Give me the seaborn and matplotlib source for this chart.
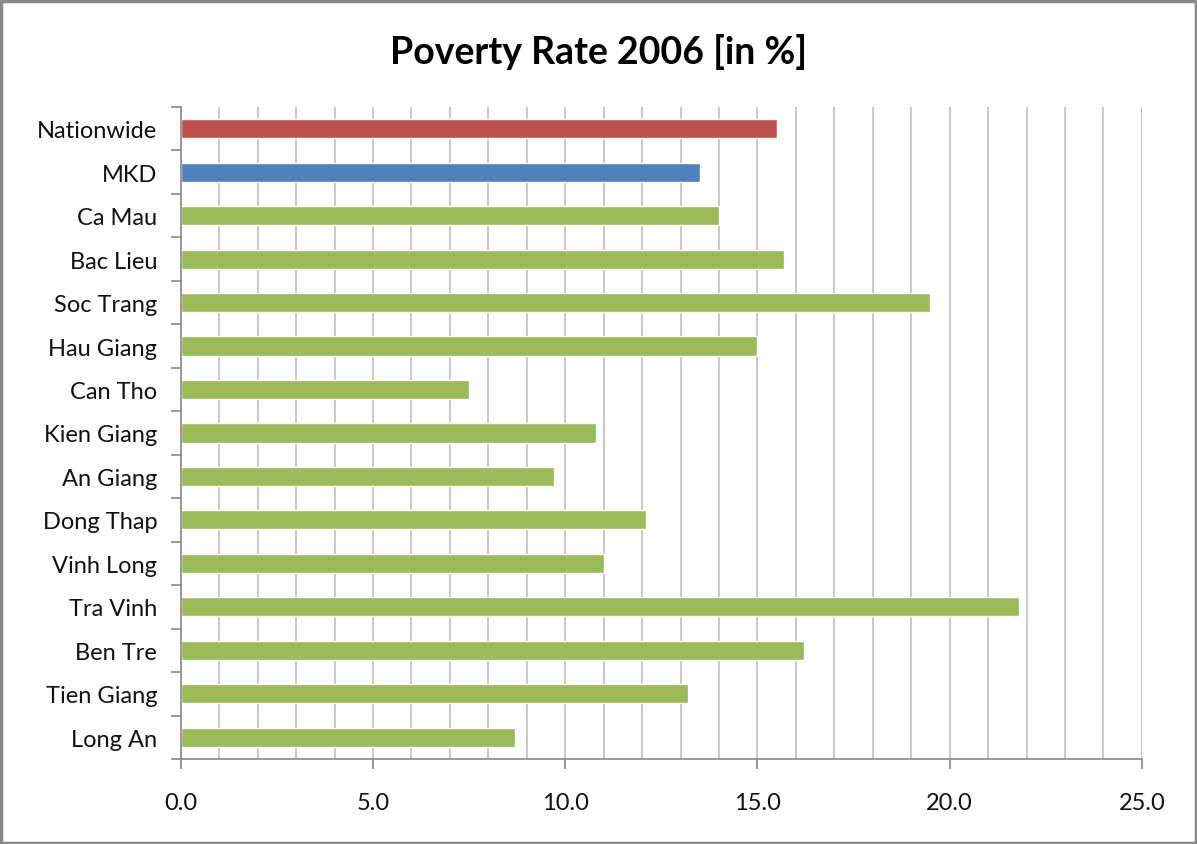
import matplotlib
matplotlib.use("Agg")
import matplotlib.pyplot as plt
import seaborn as sns
import numpy as np
import pandas as pd
from matplotlib.patches import Rectangle
from matplotlib.ticker import MultipleLocator, FixedLocator

# Data
regions = ['Nationwide', 'MKD', 'Ca Mau', 'Bac Lieu', 'Soc Trang', 'Hau Giang',
           'Can Tho', 'Kien Giang', 'An Giang', 'Dong Thap', 'Vinh Long',
           'Tra Vinh', 'Ben Tre', 'Tien Giang', 'Long An']
rates = [15.5, 13.5, 14.0, 15.7, 19.5, 15.0, 7.5, 10.8, 9.7, 12.1, 11.0,
         21.8, 16.2, 13.2, 8.7]
bar_colors = ['#C0504D', '#4F81BD'] + ['#9BBB59'] * 13

df = pd.DataFrame({'region': regions, 'rate': rates})

sns.set_theme(style="white")
plt.rcParams['font.family'] = ['Lato', 'DejaVu Sans']

fig = plt.figure(figsize=(11.97, 8.45), dpi=100)
ax = fig.add_axes([0.151, 0.1006, 0.803, 0.7716])

sns.barplot(data=df, y='region', x='rate', hue='region', palette=bar_colors,
            orient='h', width=0.44, legend=False, ax=ax, saturation=1)

ax.set_xlim(0, 25)
ax.set_ylim(14.5, -0.5)
ax.set_xlabel('')
ax.set_ylabel('')

# gridlines every 1 unit, labels every 5
ax.xaxis.set_major_locator(MultipleLocator(5))
ax.xaxis.set_minor_locator(MultipleLocator(1))
ax.xaxis.set_major_formatter(matplotlib.ticker.FormatStrFormatter('%.1f'))
ax.grid(True, axis='x', which='both', color='#BEBEBE', linewidth=1.2)
ax.set_axisbelow(True)

# y tick marks at category boundaries
ax.yaxis.set_minor_locator(FixedLocator(np.arange(-0.5, 15, 1)))
ax.tick_params(axis='y', which='major', length=0, pad=17, labelsize=17, labelcolor='#111111')
ax.tick_params(axis='y', which='minor', length=7, width=1.2, color='#888888', direction='out', left=True)
ax.tick_params(axis='x', which='major', length=7, width=1.2, color='#888888', direction='out',
               bottom=True, pad=17, labelsize=17, labelcolor='#111111')
ax.tick_params(axis='x', which='minor', length=0)

for s in ['top', 'right']:
    ax.spines[s].set_visible(False)
for s in ['left', 'bottom']:
    ax.spines[s].set_color('#888888')
    ax.spines[s].set_linewidth(1.2)

fig.text(0.5, 0.938, 'Poverty Rate 2006 [in %]', ha='center', va='center',
         fontsize=27, fontweight='bold', color='black')

fig.patches.append(Rectangle((0.001, 0.001), 0.998, 0.997, transform=fig.transFigure,
                             fill=False, edgecolor='#888888', linewidth=2.5))

fig.savefig('out.png', dpi=100)
